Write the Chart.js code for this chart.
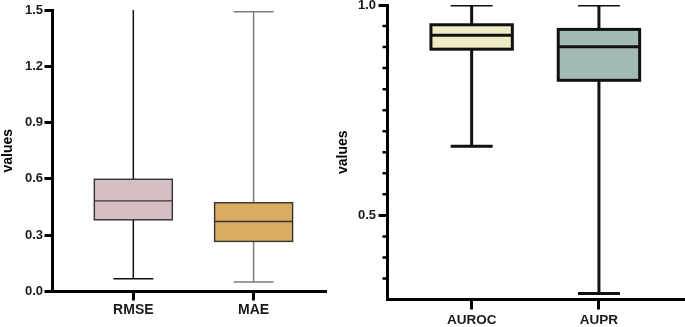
<!DOCTYPE html>
<html><head><meta charset="utf-8">
<script src="https://cdn.jsdelivr.net/npm/chart.js@4.4.0/dist/chart.umd.min.js"></script>
<style>
html,body{margin:0;padding:0;background:#fff;width:685px;height:327px;overflow:hidden}
#l{position:absolute;left:0;top:0}
#r{position:absolute;left:335px;top:0}
</style></head><body>
<canvas id="l" width="335" height="327"></canvas>
<canvas id="r" width="350" height="327"></canvas>
<script>
// ---- Left panel: error metrics ----
const errCategories = ['RMSE', 'MAE'];
const errMin    = [0.068, 0.051];
const errQ1     = [0.382, 0.267];
const errMedian = [0.483, 0.373];
const errQ3     = [0.598, 0.473];
const errMax    = [1.56, 1.491];
const errTicks  = [0.0, 0.3, 0.6, 0.9, 1.2, 1.5];

// ---- Right panel: AUC metrics ----
const aucCategories = ['AUROC', 'AUPR'];
const aucMin    = [0.664, 0.314];
const aucQ1     = [0.895, 0.821];
const aucMedian = [0.928, 0.901];
const aucQ3     = [0.953, 0.942];
const aucMax    = [1.0, 1.0];
const aucTicks  = [0.5, 1.0];
const aucMinorTicks = [0.35, 0.40, 0.45, 0.55, 0.60, 0.65, 0.70, 0.75, 0.80, 0.85, 0.90, 0.95];

const FAMILY = '"Liberation Sans", Arial, Helvetica, sans-serif';

function boxChart(el, cats, mins, q1s, meds, q3s, maxs, yTicks, minorTicks, st) {
  const positions = cats.map((c, i) => i + 1);
  const plugin = {
    id: 'boxWhisker',
    afterDatasetsDraw(chart) {
      const {ctx, chartArea: a, scales: {x, y}} = chart;
      ctx.save();
      ctx.beginPath();
      ctx.rect(a.left, a.top, a.right - a.left, a.bottom - a.top);
      ctx.clip();
      ctx.lineCap = 'butt';
      positions.forEach((p, i) => {
        const cx = x.getPixelForValue(p);
        const pMin = y.getPixelForValue(mins[i]);
        const pQ1 = y.getPixelForValue(q1s[i]);
        const pMed = y.getPixelForValue(meds[i]);
        const pQ3 = y.getPixelForValue(q3s[i]);
        const pMax = y.getPixelForValue(maxs[i]);
        const hb = st.boxWidth / 2, hc = st.capWidth / 2;
        ctx.strokeStyle = st.whisker[i];
        ctx.lineWidth = st.whiskerWidth;
        ctx.beginPath();
        ctx.moveTo(cx, pQ3); ctx.lineTo(cx, pMax);
        ctx.moveTo(cx, pQ1); ctx.lineTo(cx, pMin);
        ctx.moveTo(cx - hc, pMax); ctx.lineTo(cx + hc, pMax);
        ctx.moveTo(cx - hc, pMin); ctx.lineTo(cx + hc, pMin);
        ctx.stroke();
        ctx.strokeStyle = st.boxLine;
        ctx.lineWidth = st.boxLineWidth;
        ctx.strokeRect(cx - hb, pQ3, 2 * hb, pQ1 - pQ3);
        ctx.beginPath();
        ctx.moveTo(cx - hb, pMed); ctx.lineTo(cx + hb, pMed);
        ctx.stroke();
      });
      ctx.restore();
    },
    afterDraw(chart) {
      if (!minorTicks.length) return;
      const {ctx, chartArea: a, scales: {y}} = chart;
      ctx.save();
      ctx.strokeStyle = '#000';
      ctx.lineWidth = 2.5;
      ctx.beginPath();
      minorTicks.forEach(v => {
        const py = y.getPixelForValue(v);
        ctx.moveTo(a.left - 5, py); ctx.lineTo(a.left - 1, py);
      });
      ctx.stroke();
      ctx.restore();
    }
  };
  new Chart(el, {
    type: 'bar',
    data: {
      datasets: [{
        data: positions.map((p, i) => ({x: p, y: [q1s[i], q3s[i]]})),
        backgroundColor: st.fills,
        borderWidth: 0,
        barThickness: st.boxWidth
      }]
    },
    options: {
      responsive: false,
      animation: false,
      devicePixelRatio: 1,
      layout: {padding: {top: st.top, right: st.right, left: 0, bottom: 0}},
      plugins: {legend: {display: false}, tooltip: {enabled: false}},
      scales: {
        x: {
          type: 'linear', min: st.xmin, max: st.xmax, offset: false,
          afterBuildTicks: s => { s.ticks = positions.map(v => ({value: v})); },
          afterFit: s => { s.height = st.xh; s.paddingLeft = 0; s.paddingRight = 0; },
          ticks: {
            callback: v => cats[Math.round(v) - 1],
            font: {family: FAMILY, size: st.xFont, weight: 'bold'},
            color: '#1a1a1a', padding: st.xpad, autoSkip: false, maxRotation: 0
          },
          grid: {display: true, offset: false, drawOnChartArea: false, tickLength: st.xtl, tickWidth: 3, tickColor: '#000'},
          border: {display: true, width: 3, color: '#000'}
        },
        y: {
          type: 'linear', min: st.ymin, max: st.ymax,
          afterBuildTicks: s => { s.ticks = yTicks.map(v => ({value: v})); },
          afterFit: s => { s.width = st.yw; s.paddingTop = 0; s.paddingBottom = 0; },
          ticks: {
            callback: v => Number(v).toFixed(1),
            font: {family: FAMILY, size: 13, weight: 'bold'},
            color: '#1a1a1a', padding: st.ypad
          },
          grid: {display: true, drawOnChartArea: false, tickLength: st.ytl, tickWidth: 3, tickColor: '#000'},
          border: {display: true, width: 3, color: '#000'},
          title: {display: true, text: 'values', font: {family: FAMILY, size: 14, weight: 'bold'}, color: '#000', padding: 0}
        }
      }
    },
    plugins: [plugin]
  });
}

boxChart(document.getElementById('l'), errCategories, errMin, errQ1, errMedian, errQ3, errMax, errTicks, [], {
  fills: ['#d5bfc2', '#d8ad62'],
  whisker: ['#111111', '#7b7b7b'], whiskerWidth: 1.5,
  boxLine: '#333333', boxLineWidth: 1.4,
  boxWidth: 78, capWidth: 40,
  top: 10, right: 8.5, yw: 52.5, xh: 35.5,
  xmin: 0.328, xmax: 2.606, ymin: 0, ymax: 1.5,
  xtl: 9, ytl: 8, xpad: 1.5, ypad: 1.5, xFont: 14
});

boxChart(document.getElementById('r'), aucCategories, aucMin, aucQ1, aucMedian, aucQ3, aucMax, aucTicks, aucMinorTicks, {
  fills: ['#eeecc4', '#a3b9b8'],
  whisker: ['#111111', '#111111'], whiskerWidth: 3,
  boxLine: '#111111', boxLineWidth: 3,
  boxWidth: 81.4, capWidth: 42,
  top: 5, right: 0, yw: 52.5, xh: 27.5,
  xmin: 0.339, xmax: 2.676, ymin: 0.3, ymax: 1.0,
  xtl: 10, ytl: 9, xpad: 3, ypad: 2.5, xFont: 13.5
});
</script>
</body></html>
